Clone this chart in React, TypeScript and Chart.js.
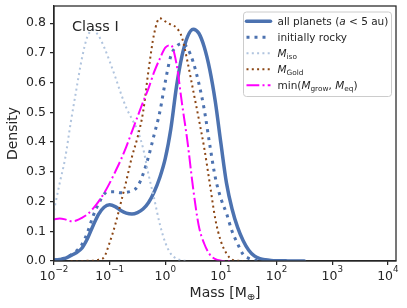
import React, { useEffect, useRef } from 'react';
import { Chart, registerables } from 'chart.js';

Chart.register(...registerables);

// log10(mass / M_earth) sample grid
const logMass = [
  -2.0, -1.9, -1.8, -1.7, -1.6, -1.5, -1.4, -1.3, -1.2, -1.1,
  -1.0, -0.9, -0.8, -0.7, -0.6, -0.5, -0.4, -0.3, -0.2, -0.1,
  0.0, 0.1, 0.2, 0.3, 0.4, 0.5, 0.6, 0.7, 0.8, 0.9,
  1.0, 1.1, 1.2, 1.3, 1.4, 1.5, 1.6, 1.7, 1.8, 1.9,
  2.0, 2.1, 2.2, 2.3, 2.4, 2.5,
];

const allPlanets = [
  0.003, 0.005, 0.009, 0.018, 0.028, 0.043, 0.075, 0.118, 0.157, 0.181,
  0.189, 0.183, 0.17, 0.161, 0.158, 0.163, 0.175, 0.197, 0.232, 0.28,
  0.345, 0.445, 0.585, 0.69, 0.755, 0.78, 0.767, 0.72, 0.643, 0.535,
  0.395, 0.262, 0.175, 0.113, 0.068, 0.036, 0.017, 0.008, 0.004, 0.002,
  0.001, 0.0006, 0.0004, 0.0002, 0.0001, 0.0001,
];

const initiallyRocky = [
  0.003, 0.006, 0.011, 0.02, 0.033, 0.055, 0.095, 0.15, 0.192, 0.225,
  0.233, 0.233, 0.23, 0.231, 0.236, 0.25, 0.292, 0.352, 0.425, 0.5,
  0.603, 0.69, 0.722, 0.732, 0.715, 0.67, 0.6, 0.51, 0.39, 0.28,
  0.21, 0.16, 0.1, 0.058, 0.022, 0.009, 0.003, 0.001, 0, 0,
  null, null, null, null, null, null,
];

const mIso = [
  0.17, 0.26, 0.345, 0.465, 0.575, 0.68, 0.755, 0.777, 0.758, 0.72,
  0.672, 0.62, 0.565, 0.515, 0.478, 0.44, 0.38, 0.29, 0.21, 0.125,
  0.062, 0.024, 0.008, 0.002, 0, null, null, null, null, null,
  null, null, null, null, null, null, null, null, null, null,
  null, null, null, null, null, null,
];

const mGold = [
  null, null, null, 0, 0, 0, 0.0005, 0.001, 0.004, 0.013,
  0.062, 0.122, 0.195, 0.27, 0.35, 0.415, 0.5, 0.643, 0.765, 0.817,
  0.806, 0.795, 0.785, 0.752, 0.67, 0.575, 0.48, 0.38, 0.26, 0.14,
  0.066, 0.025, 0.005, 0.001, 0, null, null, null, null, null,
  null, null, null, null, null, null,
];

const mGrowEq = [
  0.14, 0.143, 0.14, 0.134, 0.136, 0.145, 0.157, 0.176, 0.2, 0.228,
  0.262, 0.3, 0.34, 0.385, 0.435, 0.485, 0.535, 0.582, 0.636, 0.68,
  0.718, 0.726, 0.665, 0.53, 0.4, 0.245, 0.12, 0.058, 0.022, 0.006,
  0.001, 0, 0, null, null, null, null, null, null, null,
  null, null, null, null, null, null,
];

const yTicks = [0, 0.1, 0.2, 0.3, 0.4, 0.5, 0.6, 0.7, 0.8];
const yTickLabels = ['0.0', '0.1', '0.2', '0.3', '0.4', '0.5', '0.6', '0.7', '0.8'];
const xTickExponents = [-2, -1, 0, 1, 2, 3, 4];
const xTickExpLabels = ['\u22122', '\u22121', '0', '1', '2', '3', '4'];

const X_MIN = 0.01;
const X_MAX = 14000;
const Y_MAX = 0.858;

const FONT = '"DejaVu Sans", sans-serif';
const TEXT = '#262626';
const SPINE = '#262626';

type Seg = { t: string; it?: boolean; sub?: boolean; sup?: boolean };

const legendLabels: Seg[][] = [
  [{ t: 'all planets (' }, { t: 'a', it: true }, { t: ' < 5 au)' }],
  [{ t: 'initially rocky' }],
  [{ t: 'M', it: true }, { t: 'iso', sub: true }],
  [{ t: 'M', it: true }, { t: 'Gold', sub: true }],
  [{ t: 'min(' }, { t: 'M', it: true }, { t: 'grow', sub: true }, { t: ', ' }, { t: 'M', it: true }, { t: 'eq', sub: true }, { t: ')' }],
];

function fontFor(s: Seg, size: number) {
  const sz = s.sub || s.sup ? size * 0.7 : size;
  return `${s.it ? 'italic ' : ''}${sz}px ${FONT}`;
}

function drawRich(ctx: CanvasRenderingContext2D, segs: Seg[], x: number, y: number, size: number, align: 'left' | 'center') {
  const widths = segs.map((s) => {
    ctx.font = fontFor(s, size);
    return ctx.measureText(s.t).width;
  });
  const total = widths.reduce((a, b) => a + b, 0);
  let cx = align === 'center' ? x - total / 2 : x;
  ctx.textAlign = 'left';
  ctx.textBaseline = 'alphabetic';
  segs.forEach((s, i) => {
    ctx.font = fontFor(s, size);
    const dy = s.sub ? size * 0.22 : s.sup ? -size * 0.6 : 0;
    ctx.fillText(s.t, cx, y + dy);
    cx += widths[i];
  });
}

function toPoints(vals: (number | null)[]) {
  const pts: { x: number; y: number }[] = [];
  logMass.forEach((lm, i) => {
    const v = vals[i];
    if (v !== null && v !== undefined) pts.push({ x: Math.pow(10, lm), y: v });
  });
  return pts;
}

const decorPlugin = {
  id: 'decor',
  afterDraw(chart: any) {
    const ctx: CanvasRenderingContext2D = chart.ctx;
    const a = chart.chartArea;
    ctx.save();
    // spines
    ctx.strokeStyle = SPINE;
    ctx.lineWidth = 1.25;
    ctx.setLineDash([]);
    ctx.strokeRect(a.left, a.top, a.right - a.left, a.bottom - a.top);

    ctx.fillStyle = TEXT;
    // x tick labels
    const xs = chart.scales.x;
    xTickExponents.forEach((e, i) => {
      const px = xs.getPixelForValue(Math.pow(10, e));
      drawRich(ctx, [{ t: '10' }, { t: xTickExpLabels[i], sup: true }], px, a.bottom + 18.5, 12.5, 'center');
    });
    // x title
    drawRich(ctx, [{ t: 'Mass [M' }, { t: '\u2295', sub: true }, { t: ']' }], (a.left + a.right) / 2, a.bottom + 35.5, 14, 'center');
    // y title
    ctx.save();
    ctx.translate(16.5, (a.top + a.bottom) / 2);
    ctx.rotate(-Math.PI / 2);
    drawRich(ctx, [{ t: 'Density' }], 0, 0, 14, 'center');
    ctx.restore();
    // Class I
    drawRich(ctx, [{ t: 'Class I' }], a.left + 18, a.top + 24.5, 14.4, 'left');

    // legend
    const bw = 148;
    const bh = 84.5;
    const bx = a.right - 4.5 - bw;
    const by = a.top + 6;
    ctx.beginPath();
    (ctx as any).roundRect(bx, by, bw, bh, 3);
    ctx.fillStyle = 'rgba(255,255,255,0.8)';
    ctx.fill();
    ctx.strokeStyle = '#cccccc';
    ctx.lineWidth = 1;
    ctx.stroke();
    const dsets = chart.data.datasets;
    legendLabels.forEach((segs, i) => {
      const ds = dsets[i];
      const cy = by + 9.3 + 16 * i;
      ctx.save();
      ctx.strokeStyle = ds.borderColor;
      ctx.lineWidth = ds.borderWidth;
      ctx.setLineDash(ds.borderDash || []);
      ctx.lineCap = ds.borderCapStyle || 'butt';
      ctx.beginPath();
      const x0 = bx + 3;
      const x1 = bx + 27;
      ctx.moveTo(x0, cy);
      ctx.lineTo(x1, cy);
      ctx.stroke();
      ctx.restore();
      ctx.fillStyle = TEXT;
      drawRich(ctx, segs, bx + 34, cy + 3.6, 10.5, 'left');
    });
    ctx.restore();
  },
};

export default function App() {
  const ref = useRef<HTMLCanvasElement>(null);
  useEffect(() => {
    document.body.style.margin = '0';
    const gridOpts = {
      display: true,
      drawOnChartArea: false,
      drawTicks: true,
      tickLength: 4,
      color: SPINE,
      lineWidth: 1.25,
    };
    const borderOpts = { display: true, color: SPINE, width: 1.25 };
    const chart = new Chart(ref.current as HTMLCanvasElement, {
      type: 'line',
      data: {
        datasets: [
          {
            label: 'all planets',
            data: toPoints(allPlanets),
            borderColor: '#4c72b0',
            borderWidth: 3.5,
            borderCapStyle: 'round',
            borderJoinStyle: 'round',
            order: 5,
          },
          {
            label: 'initially rocky',
            data: toPoints(initiallyRocky),
            borderColor: '#4c72b0',
            borderWidth: 3,
            borderDash: [3, 5],
            borderCapStyle: 'butt',
            order: 4,
          },
          {
            label: 'M_iso',
            data: toPoints(mIso),
            borderColor: '#b0c4de',
            borderWidth: 2,
            borderDash: [2, 3.3],
            borderCapStyle: 'butt',
            order: 3,
          },
          {
            label: 'M_Gold',
            data: toPoints(mGold),
            borderColor: '#8b4513',
            borderWidth: 2,
            borderDash: [2, 3.3],
            borderCapStyle: 'butt',
            order: 2,
          },
          {
            label: 'min(M_grow, M_eq)',
            data: toPoints(mGrowEq),
            borderColor: '#ff00ff',
            borderWidth: 2,
            borderDash: [12.8, 3.2, 2, 3.2],
            borderCapStyle: 'butt',
            order: 1,
          },
        ] as any,
      },
      options: {
        responsive: false,
        animation: false,
        devicePixelRatio: 1,
        layout: { padding: { top: 6, right: 11, left: 0, bottom: 0 } },
        elements: {
          point: { radius: 0, hoverRadius: 0 },
          line: { cubicInterpolationMode: 'monotone', fill: false },
        },
        plugins: { legend: { display: false }, tooltip: { enabled: false } },
        scales: {
          x: {
            type: 'logarithmic',
            min: X_MIN,
            max: X_MAX,
            afterBuildTicks: (s: any) => {
              s.ticks = xTickExponents.map((e) => ({ value: Math.pow(10, e) }));
            },
            afterFit: (s: any) => {
              s.height = 47;
              s.paddingLeft = 0;
              s.paddingRight = 0;
            },
            ticks: { display: false },
            grid: gridOpts,
            border: borderOpts,
          },
          y: {
            type: 'linear',
            min: 0,
            max: Y_MAX,
            afterBuildTicks: (s: any) => {
              s.ticks = yTicks.map((v) => ({ value: v }));
            },
            afterFit: (s: any) => {
              s.width = 54;
              s.paddingTop = 0;
              s.paddingBottom = 0;
            },
            ticks: {
              color: TEXT,
              font: { family: 'DejaVu Sans', size: 12.5 },
              padding: 4,
              autoSkip: false,
              callback: (_v: any, i: number) => yTickLabels[i],
            },
            grid: gridOpts,
            border: borderOpts,
          },
        },
      } as any,
      plugins: [decorPlugin],
    });
    return () => chart.destroy();
  }, []);
  return (
    <div style={{ width: 407, height: 308 }}>
      <canvas ref={ref} width={407} height={308} style={{ width: 407, height: 308, display: 'block' }} />
    </div>
  );
}
